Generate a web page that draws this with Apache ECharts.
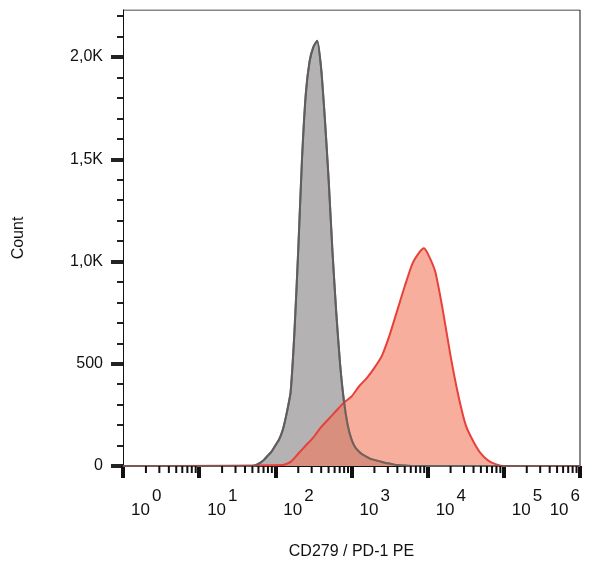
<!DOCTYPE html>
<html><head><meta charset="utf-8">
<script src="https://cdn.jsdelivr.net/npm/echarts@6/dist/echarts.min.js"></script>
<style>html,body{margin:0;padding:0;background:#fff}#c{width:596px;height:564px}</style>
</head><body><div id="c"></div>
<script>
// x in decades (log10 of fluorescence), y = counts
var grayX = [0,1.7,1.75,1.8,1.85,1.9,1.95,2.0,2.05,2.1,2.15,2.2,2.25,2.3,2.35,2.4,2.45,2.5,2.55,2.6,2.65,2.7,2.75,2.8,2.85,2.9,2.95,3.0,3.05,3.1,3.15,3.2,3.25,3.3,3.35,3.4,3.45,3.5,3.55,3.6,3.7,3.8,6];
var grayY = [0,0,5,15,30,50,70,100,130,180,260,360,650,1050,1500,1820,1980,2050,2080,1950,1700,1400,1050,750,500,320,200,130,90,70,55,45,35,30,25,20,15,12,8,5,2,0,0];
var redX = [0,2.1,2.2,2.3,2.4,2.5,2.6,2.7,2.8,2.9,3.0,3.1,3.2,3.3,3.4,3.5,3.6,3.7,3.8,3.9,3.95,4.0,4.1,4.2,4.3,4.4,4.5,4.6,4.7,4.8,4.9,5.0,6];
var redY = [0,5,20,60,100,140,190,230,270,310,340,390,430,480,540,640,760,880,990,1050,1065,1040,950,760,540,350,200,120,60,25,8,0,0];
var decades = [0,1,2,3,4,5,6];
var yTicks = [0,500,1000,1500,2000];

function pairs(xs, ys){ return xs.map(function(x,i){return [x, ys[i]];}); }
var minor = [];
decades.slice(0,6).forEach(function(d){ for (var k=2;k<=9;k++) minor.push(d+Math.log10(k)); });

var chart = echarts.init(document.getElementById('c'));
chart.setOption({
  animation:false,
  grid:{left:123,right:16,top:10,bottom:98,containLabel:false,outerBoundsMode:'none'},
  xAxis:{type:'value',min:0,max:6,interval:1,
    name:'CD279 / PD-1 PE',nameLocation:'middle',nameGap:78,
    nameTextStyle:{fontFamily:'Liberation Sans',fontSize:16,color:'#111'},
    axisLine:{show:true,lineStyle:{color:'#111',width:1}},
    axisTick:{show:true,inside:false,length:12,lineStyle:{color:'#111',width:4}},
    splitLine:{show:false},
    axisLabel:{margin:22,align:'left',alignMaxLabel:'right',padding:[0,0,0,8],hideOverlap:false,
      formatter:function(v){return '{b|10}{s|'+v+'}';},
      rich:{b:{fontFamily:'Liberation Sans',fontSize:17,color:'#111',padding:[14,0,0,0]},
            s:{fontFamily:'Liberation Sans',fontSize:17,color:'#111',padding:[0,0,14,2]}}}},
  yAxis:{type:'value',min:0,max:2230,interval:500,
    name:'Count',nameLocation:'middle',nameGap:96,
    nameTextStyle:{fontFamily:'Liberation Sans',fontSize:16,color:'#111'},
    axisLine:{show:true,lineStyle:{color:'#111'}},
    axisTick:{show:true,length:12,customValues:yTicks,lineStyle:{color:'#222',width:4}},
    minorTick:{show:true,splitNumber:5,length:6,lineStyle:{color:'#222',width:2}},
    splitLine:{show:false},
    axisLabel:{margin:20,customValues:yTicks,fontFamily:'Liberation Sans',fontSize:16,color:'#111',
      formatter:function(v){return v>=1000?(v/1000).toFixed(1).replace('.',',')+'K':String(v);}}},
  series:[
    {type:'line',data:pairs(grayX,grayY),symbol:'none',smooth:0.2,z:2,
      lineStyle:{color:'#5e5e5e',width:2},areaStyle:{color:'#b4b2b2',opacity:1}},
    {type:'line',data:pairs(redX,redY),symbol:'none',smooth:0.2,z:3,
      lineStyle:{color:'#e8403a',width:2},areaStyle:{color:'rgb(242,120,90)',opacity:0.6}},
    {type:'line',data:pairs(grayX,grayY),symbol:'none',smooth:0.2,z:4,
      lineStyle:{color:'#5e5e5e',width:2,opacity:0.8}},
    {type:'custom',z:5,silent:true,clip:false,data:minor.map(function(m){return [m];}),
      renderItem:function(params,api){
        var p = api.coord([api.value(0),0]);
        return {type:'line',shape:{x1:p[0],y1:p[1],x2:p[0],y2:p[1]+7},style:{stroke:'#111',lineWidth:2}};
      }},
    {type:'line',data:[[0,2230],[6,2230],[6,0]],symbol:'none',silent:true,z:1,
      lineStyle:{color:'#111',width:1}}
  ]
});
</script></body></html>
